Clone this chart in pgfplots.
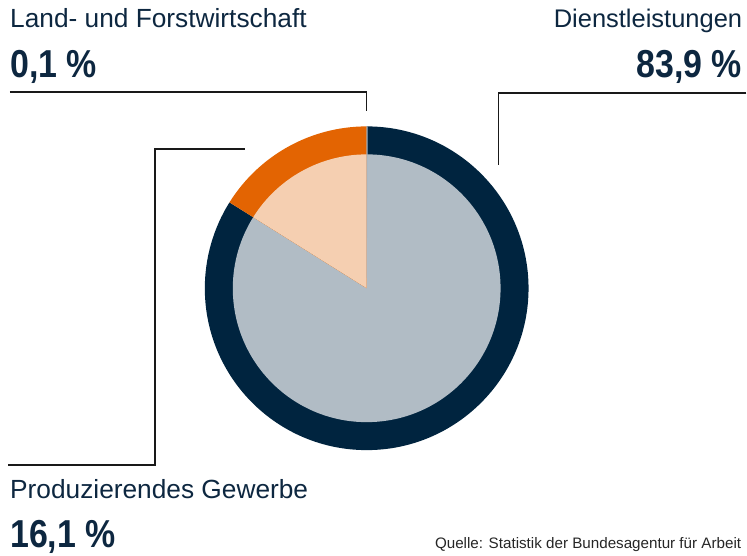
\documentclass[border=0pt]{standalone}
\usepackage{pgfplots}
\pgfplotsset{compat=1.18}
\usepackage{graphicx}
\usepackage{fontspec}
\setmainfont{Liberation Sans}
\definecolor{navy}{HTML}{00243F}
\definecolor{orng}{HTML}{E36402}
\definecolor{paleor}{HTML}{F5CFB1}
\definecolor{grayblue}{HTML}{B1BCC5}
\definecolor{landc}{HTML}{A4B4C2}
\definecolor{txt}{HTML}{0D2740}
% data (percent)
\def\vD{83.9}
\def\vP{16.1}
\def\vL{0.1}
\pgfmathsetmacro{\aA}{90}
\pgfmathsetmacro{\aB}{90-3.6*\vD}
\pgfmathsetmacro{\aC}{\aB-3.6*\vP}
\pgfmathsetmacro{\aD}{\aC-3.6*\vL}
\def\Ro{162pt}
\def\Ri{134pt}
\tikzset{lab/.style={inner sep=0, text=txt, font=\fontsize{26.3}{30}\selectfont},
  num/.style={inner sep=0, text=txt, font=\bfseries\fontsize{39}{42}\selectfont}}
\begin{document}
\begin{tikzpicture}
\begin{axis}[scale only axis, width=747pt, height=556pt,
  xmin=0, xmax=747, ymin=0, ymax=556, y dir=reverse,
  hide axis, clip=false]
\path (axis cs:0,0) rectangle (axis cs:747,556);
% Dienstleistungen
\fill[navy] (axis cs:367,288.5) -- ++(\aA:\Ro) arc[start angle=\aA, end angle=\aB, radius=\Ro] -- cycle;
\fill[grayblue] (axis cs:367,288.5) -- ++(\aA:\Ri) arc[start angle=\aA, end angle=\aB, radius=\Ri] -- cycle;
% Produzierendes Gewerbe
\fill[orng] (axis cs:367,288.5) -- ++(\aB:\Ro) arc[start angle=\aB, end angle=\aC, radius=\Ro] -- cycle;
\fill[paleor] (axis cs:367,288.5) -- ++(\aB:\Ri) arc[start angle=\aB, end angle=\aC, radius=\Ri] -- cycle;
% Land- und Forstwirtschaft
\fill[landc] (axis cs:367,288.5) -- ++(\aC:\Ro) arc[start angle=\aC, end angle=\aD, radius=\Ro] -- cycle;
% callout lines
\draw[line width=1.3pt, black!90] (axis cs:10,92) -- (axis cs:367,92) -- (axis cs:367,111);
\draw[line width=1.3pt, black!90] (axis cs:747,93) -- (axis cs:499,93) -- (axis cs:499,165);
\draw[line width=1.3pt, black!90] (axis cs:245,149) -- (axis cs:155,149) -- (axis cs:155,465.5) -- (axis cs:8,465.5);
% labels
\node[lab, anchor=base west] at (axis cs:10,28) {Land- und Forstwirtschaft};
\node[num, anchor=base west] at (axis cs:10,78) {\scalebox{0.87}[1]{0,1 \%}};
\node[lab, anchor=base east, font=\fontsize{25.5}{30}\selectfont] at (axis cs:743,27.5) {Dienstleistungen};
\node[num, anchor=base east] at (axis cs:743,77.5) {\scalebox{0.87}[1]{83,9 \%}};
\node[lab, anchor=base west] at (axis cs:10,499) {Produzierendes Gewerbe};
\node[num, anchor=base west] at (axis cs:10,547.5) {\scalebox{0.87}[1]{16,1 \%}};
\node[anchor=base east, inner sep=0, text=black!85, font=\fontsize{15.2}{18}\selectfont] at (axis cs:742,549) {Quelle: Statistik der Bundesagentur für Arbeit};
\end{axis}
\end{tikzpicture}
\end{document}
